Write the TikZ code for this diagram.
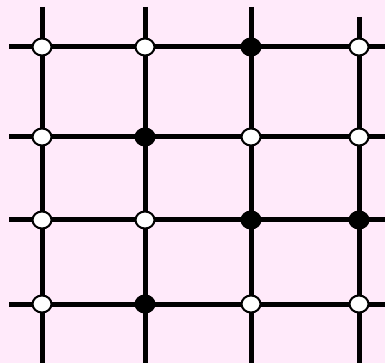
\documentclass[tikz,border=0pt]{standalone}
\usetikzlibrary{shapes.geometric}
\definecolor{bgpink}{RGB}{255,234,250}
\pgfdeclarelayer{bglayer}
\pgfdeclarelayer{linelayer}
\pgfsetlayers{bglayer,linelayer,main}
\begin{document}
\begin{tikzpicture}[x=1pt,y=-1pt,
  gridline/.style={line width=5pt,black},
  dot/.style={ellipse,draw=black,line width=2pt,minimum width=19pt,minimum height=17pt,inner sep=0pt},
  wdot/.style={dot,fill=white},
  bdot/.style={dot,fill=black}]
\begin{pgfonlayer}{bglayer}
\fill[bgpink] (0,0) rectangle (385,363);
\end{pgfonlayer}
\useasboundingbox (0,0) rectangle (385,363);
% row 1
\node[wdot] (n11) at (42,47) {};
\node[wdot] (n12) at (145,47) {};
\node[bdot] (n13) at (251,47) {};
\node[wdot] (n14) at (359,47) {};
% row 2
\node[wdot] (n21) at (42,137) {};
\node[bdot] (n22) at (145,137) {};
\node[wdot] (n23) at (251,137) {};
\node[wdot] (n24) at (359,137) {};
% row 3
\node[wdot] (n31) at (42,220) {};
\node[wdot] (n32) at (145,220) {};
\node[bdot] (n33) at (251,220) {};
\node[bdot] (n34) at (359,220) {};
% row 4
\node[wdot] (n41) at (42,304) {};
\node[bdot] (n42) at (145,304) {};
\node[wdot] (n43) at (251,304) {};
\node[wdot] (n44) at (359,304) {};
% free ends
\coordinate (t1) at (42,7);
\coordinate (t2) at (145,7);
\coordinate (t3) at (251,7);
\coordinate (t4) at (359,17);
\coordinate (b1) at (42,363);
\coordinate (b2) at (145,363);
\coordinate (b3) at (251,363);
\coordinate (b4) at (359,363);
\coordinate (l1) at (9,47);
\coordinate (l2) at (9,137);
\coordinate (l3) at (9,220);
\coordinate (l4) at (9,304);
\coordinate (r1) at (385,47);
\coordinate (r2) at (385,137);
\coordinate (r3) at (385,220);
\coordinate (r4) at (385,304);
\begin{pgfonlayer}{linelayer}
\foreach \c in {1,2,3,4}{
  \draw[gridline] (t\c) -- (n1\c.center) -- (n2\c.center) -- (n3\c.center) -- (n4\c.center) -- (b\c);
  \draw[gridline] (l\c) -- (n\c1.center) -- (n\c2.center) -- (n\c3.center) -- (n\c4.center) -- (r\c);
}
\end{pgfonlayer}
\end{tikzpicture}
\end{document}
